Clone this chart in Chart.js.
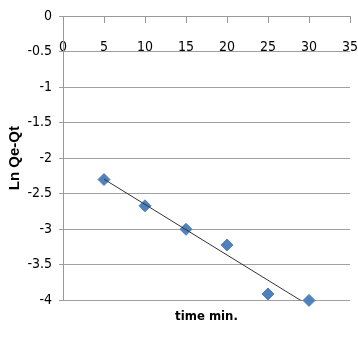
<!DOCTYPE html>
<html>
<head>
<meta charset="utf-8">
<script src="https://cdn.jsdelivr.net/npm/chart.js@4.4.1/dist/chart.umd.min.js"></script>
<style>
  html, body { margin: 0; padding: 0; background: #fff; }
  #wrap { width: 358px; height: 338px; position: relative; }
</style>
</head>
<body>
<div id="wrap"><canvas id="kineticsChart"></canvas></div>
<script>
// time (min) and ln(Qe - Qt)
const timeMin = [5, 10, 15, 20, 25, 30];
const lnQeQt = [-2.30, -2.67, -3.00, -3.22, -3.91, -4.00];
const xTicks = [0, 5, 10, 15, 20, 25, 30, 35];
const yTicks = [0, -0.5, -1, -1.5, -2, -2.5, -3, -3.5, -4];

const narrow = "'Liberation Sans Narrow', 'DejaVu Sans Condensed', sans-serif";

// linear trendline (least squares) like the Excel one
const n = timeMin.length;
const mx = timeMin.reduce((a, b) => a + b, 0) / n;
const my = lnQeQt.reduce((a, b) => a + b, 0) / n;
let sxy = 0, sxx = 0;
for (let i = 0; i < n; i++) {
    sxy += (timeMin[i] - mx) * (lnQeQt[i] - my);
    sxx += (timeMin[i] - mx) * (timeMin[i] - mx);
}
const slope = sxy / sxx;
const icept = my - slope * mx;
const trend = [timeMin[0], timeMin[n - 1]].map(x => ({ x: x, y: icept + slope * x }));

const points = timeMin.map((t, i) => ({ x: t, y: lnQeQt[i] }));

const ctx = document.getElementById('kineticsChart').getContext('2d');
const kineticsChart = new Chart(ctx, {
    type: 'scatter',
    data: {
        datasets: [{
            label: 'Linear',
            data: trend,
            showLine: true,
            borderColor: '#333333',
            borderWidth: 1,
            pointRadius: 0,
            clip: 0
        }, {
            label: 'Ln Qe-Qt',
            data: points,
            pointStyle: 'rectRot',
            pointRadius: 6,
            pointBackgroundColor: '#4f81bd',
            pointBorderColor: '#4f81bd',
            pointBorderWidth: 1,
            clip: false
        }]
    },
    options: {
        responsive: true,
        maintainAspectRatio: false,
        animation: false,
        layout: { padding: { top: 16, right: 8, left: 0, bottom: 0 } },
        plugins: {
            legend: { display: false },
            tooltip: { enabled: false },
            title: {
                display: true,
                text: 'time min.',
                position: 'bottom',
                fullSize: false,
                color: '#000',
                font: { family: narrow, size: 13, weight: 'bold' },
                padding: { top: 8, bottom: 14 }
            }
        },
        scales: {
            x: {
                type: 'linear',
                position: { y: 0 },
                min: 0,
                max: 35,
                afterBuildTicks: (s) => { s.ticks = xTicks.map(v => ({ value: v })); },
                afterFit: (s) => { s.paddingLeft = 0; s.paddingRight = 0; },
                ticks: {
                    color: '#000',
                    font: { family: narrow, size: 14 },
                    padding: 17,
                    maxRotation: 0,
                    callback: (v) => String(v)
                },
                grid: { drawOnChartArea: false, color: '#999', tickLength: 6 },
                border: { color: '#999' }
            },
            y: {
                type: 'linear',
                position: 'left',
                min: -4,
                max: 0,
                afterBuildTicks: (s) => { s.ticks = yTicks.map(v => ({ value: v })); },
                afterFit: (s) => { s.width = 63; },
                ticks: {
                    color: '#000',
                    font: { family: narrow, size: 14 },
                    padding: 7,
                    callback: (v) => String(v)
                },
                grid: { color: '#a0a0a0', tickLength: 4 },
                border: { color: '#999' },
                title: {
                    display: true,
                    text: 'Ln Qe-Qt',
                    color: '#000',
                    font: { family: "'Liberation Sans', sans-serif", size: 15, weight: 'bold' },
                    padding: { top: 6, bottom: 0 }
                }
            }
        }
    }
});
</script>
</body>
</html>
